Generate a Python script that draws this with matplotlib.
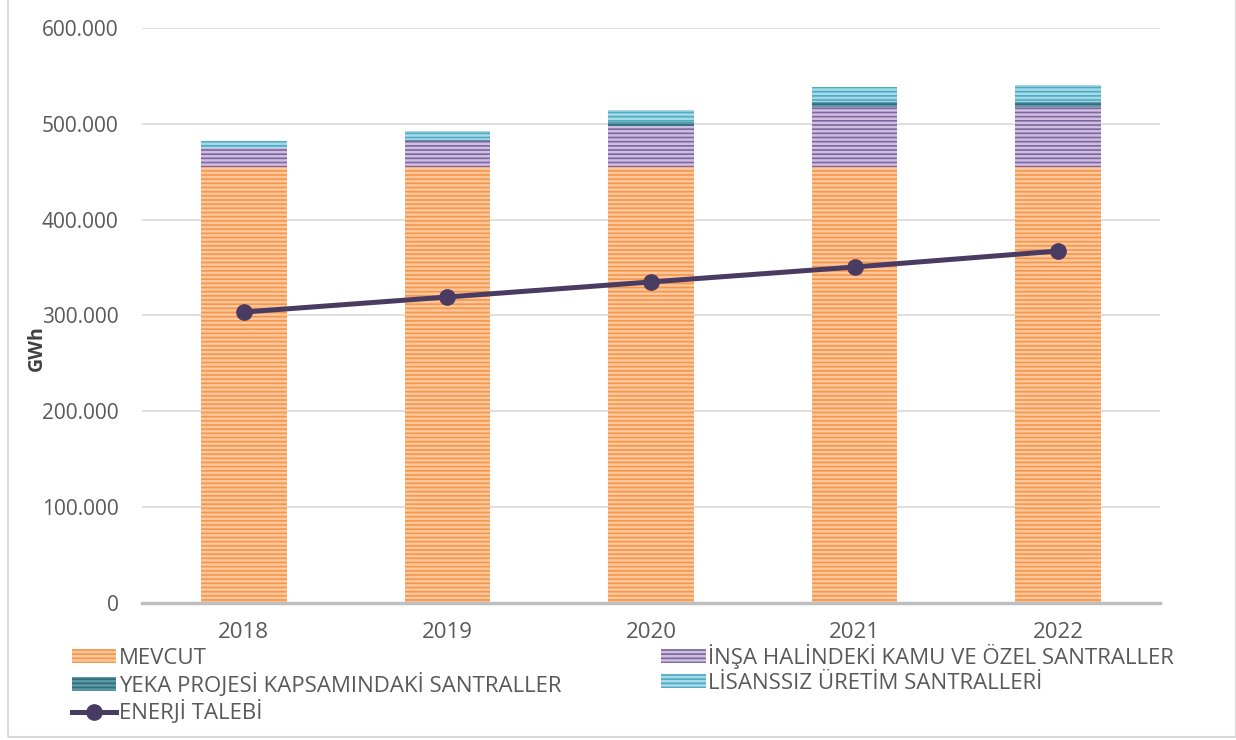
import matplotlib
matplotlib.use("Agg")
import matplotlib.pyplot as plt
from matplotlib.patches import Rectangle
from matplotlib.ticker import FuncFormatter
import numpy as np

years = ["2018", "2019", "2020", "2021", "2022"]
mevcut = [455000, 455000, 455000, 455000, 455000]
insa = [20000, 27000, 43000, 63000, 63000]
yeka = [0, 1000, 4000, 5000, 5000]
lisanssiz = [7000, 10000, 12000, 15000, 17000]
talep = [303600, 319300, 335000, 350600, 367300]

# (label, values, fill, stripe)
stacks = [
    ("MEVCUT", mevcut, "#F79646", "#FCC79E"),
    ("İNŞA HALİNDEKİ KAMU VE ÖZEL SANTRALLER", insa, "#8064A2", "#CDBFE0"),
    ("YEKA PROJESİ KAPSAMINDAKİ SANTRALLER", yeka, "#2F6E7D", "#5E98A6"),
    ("LİSANSSIZ ÜRETİM SANTRALLERİ", lisanssiz, "#4BACC6", "#A8D8E6"),
]

plt.rcParams["font.family"] = ["Open Sans", "DejaVu Sans"]
plt.rcParams["hatch.linewidth"] = 1.8
TEXT = "#595959"

fig = plt.figure(figsize=(12.36, 7.40), dpi=100)
ax = fig.add_axes([0.1149, 0.1851, 0.8236, 0.7771])

x = np.arange(len(years))
bottom = np.zeros(len(years))
handles = {}
for label, vals, fill, stripe in stacks:
    vals = np.array(vals, dtype=float)
    b = ax.bar(x, vals, width=0.42, bottom=bottom, color=fill, edgecolor=stripe,
               linewidth=0, hatch="----", zorder=2, label=label)
    handles[label] = b
    bottom += vals

ln, = ax.plot(x, talep, color="#4A3B63", lw=3.6, marker="o", ms=11,
              zorder=4, label="ENERJİ TALEBİ")

ax.set_xlim(-0.5, len(years) - 0.5)
ax.set_ylim(0, 600000)
ax.set_yticks(np.arange(0, 600001, 100000))
ax.yaxis.set_major_formatter(FuncFormatter(lambda v, _: f"{int(v):,}".replace(",", ".")))
ax.set_xticks(x)
ax.set_xticklabels(years)
ax.tick_params(axis="both", length=0, labelcolor=TEXT)
ax.tick_params(axis="y", pad=17, labelsize=15)
ax.tick_params(axis="x", pad=14, labelsize=16)
ax.grid(axis="y", color="#D9D9D9", lw=1.2, zorder=0)
ax.set_axisbelow(True)
for side in ("top", "right", "left"):
    ax.spines[side].set_visible(False)
ax.spines["bottom"].set_color("#BFBFBF")
ax.spines["bottom"].set_linewidth(2.5)
ax.spines["bottom"].set_zorder(3)

fig.text(37 / 1236, 1 - 348 / 740, "GWh", rotation=90, ha="center", va="center",
         fontsize=14, fontweight="bold", color="#404040")

order = ["MEVCUT", "YEKA PROJESİ KAPSAMINDAKİ SANTRALLER", None,
         "İNŞA HALİNDEKİ KAMU VE ÖZEL SANTRALLER", "LİSANSSIZ ÜRETİM SANTRALLERİ"]
leg_handles = [handles[k] if k else ln for k in order]
leg_labels = [k if k else "ENERJİ TALEBİ" for k in order]
leg = fig.legend(leg_handles, leg_labels, ncol=2, loc="upper left",
                 bbox_to_anchor=(72 / 1236, 1 - 644 / 740), frameon=False,
                 fontsize=16, labelcolor=TEXT, handlelength=2.0, handleheight=0.6,
                 handletextpad=0.1, labelspacing=0.16, columnspacing=4.5,
                 borderaxespad=0, borderpad=0)

fig.patches.append(Rectangle((8 / 1236, 3 / 740), 1 - 8 / 1236, 1, transform=fig.transFigure,
                             fill=False, edgecolor="#D9D9D9", lw=1.5, zorder=0))

fig.savefig("out.png", dpi=100)
